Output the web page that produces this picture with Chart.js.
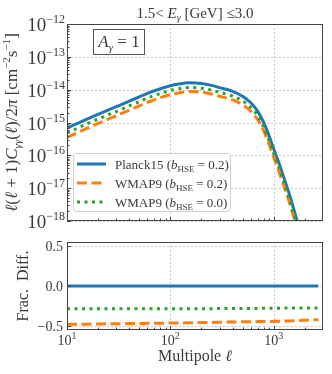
<!DOCTYPE html>
<html><head><meta charset="utf-8">
<script src="https://cdn.jsdelivr.net/npm/chart.js@4.4.0/dist/chart.umd.min.js"></script>
<style>
html,body{margin:0;padding:0;background:#fff;}
#wrap{position:relative;width:332px;height:374px;overflow:hidden;}
canvas{position:absolute;left:0;}
</style></head><body>
<div id="wrap">
<canvas id="top" width="332" height="232" style="top:0"></canvas>
<canvas id="bot" width="332" height="142" style="top:232px"></canvas>
</div>
<script>
// ---- data ----
const ell = [10,12,15,20,25,30,40,50,60,80,100,120,150,200,250,300,400,500,600,700,800,900,1000,1100,1200,1400,1600,1800,2000,2500,2700];
const planck15 = [6.76e-16,8.71e-16,1.20e-15,1.78e-15,2.40e-15,3.02e-15,4.47e-15,6.03e-15,7.76e-15,1.07e-14,1.32e-14,1.48e-14,1.62e-14,1.55e-14,1.35e-14,1.15e-14,8.91e-15,6.31e-15,3.98e-15,2.19e-15,1.00e-15,3.98e-16,1.58e-16,7.08e-17,3.16e-17,7.41e-18,1.78e-18,4.47e-19,1.12e-19,5.0e-21,1.6e-21];
const wmap9_b02 = [3.52e-16,4.55e-16,6.28e-16,9.35e-16,1.26e-15,1.59e-15,2.37e-15,3.21e-15,4.14e-15,5.72e-15,7.09e-15,7.96e-15,8.75e-15,8.42e-15,7.36e-15,6.29e-15,4.90e-15,3.48e-15,2.20e-15,1.22e-15,5.56e-16,2.22e-16,8.82e-17,3.96e-17,1.77e-17,4.18e-18,1.01e-18,2.55e-19,6.41e-20,2.89e-21,9.3e-22];
const wmap9_b00 = [4.83e-16,6.23e-16,8.58e-16,1.27e-15,1.72e-15,2.16e-15,3.20e-15,4.31e-15,5.55e-15,7.65e-15,9.45e-15,1.06e-14,1.16e-14,1.11e-14,9.68e-15,8.26e-15,6.41e-15,4.54e-15,2.87e-15,1.58e-15,7.21e-16,2.87e-16,1.14e-16,5.11e-17,2.28e-17,5.36e-18,1.29e-18,3.24e-19,8.12e-20,3.63e-21,1.16e-21];
const fracPlanck15 = [0,0,0,0,0,0,0,0,0,0,0,0,0,0,0,0,0,0,0,0,0,0,0,0,0,0,0,0,0,0,0];
const fracWmap9_b02 = [-0.480,-0.478,-0.477,-0.475,-0.473,-0.472,-0.470,-0.468,-0.467,-0.465,-0.463,-0.462,-0.460,-0.457,-0.455,-0.453,-0.450,-0.448,-0.447,-0.445,-0.444,-0.443,-0.442,-0.441,-0.439,-0.436,-0.433,-0.430,-0.428,-0.423,-0.421];
const fracWmap9_b00 = [-0.285,-0.285,-0.285,-0.285,-0.285,-0.285,-0.285,-0.285,-0.285,-0.285,-0.284,-0.284,-0.284,-0.283,-0.283,-0.282,-0.281,-0.281,-0.280,-0.280,-0.279,-0.279,-0.278,-0.278,-0.277,-0.276,-0.276,-0.275,-0.275,-0.274,-0.273];
const seriesNames = ['Planck15', 'WMAP9', 'WMAP9'];
const seriesBhse = ['0.2', '0.2', '0.0'];
const xTicks = [10, 100, 1000];
const xTickExp = ['1', '2', '3'];
const yTicksTop = [1e-12, 1e-13, 1e-14, 1e-15, 1e-16, 1e-17, 1e-18];
const yTickExpTop = ['−12', '−13', '−14', '−15', '−16', '−17', '−18'];
const yTicksBot = [0.5, 0.0, -0.5];
const yTickLabelsBot = ['0.5', '0.0', '−0.5'];

// ---- styling ----
const FONT = '"Liberation Serif", "DejaVu Serif", serif';
const TXT = '#3a3a3a';
const COLORS = ['#1f77b4', '#ff7f0e', '#2ca02c'];
const DASHES = [[], [10, 4.5], [3, 4.5]];
function font(sz, it) { return (it ? 'italic ' : '') + sz + 'px ' + FONT; }
function richWidth(ctx, parts) { let w = 0; for (const p of parts) { ctx.font = font(p[1], p[2]); w += ctx.measureText(p[0]).width; } return w; }
function drawRich(ctx, parts, x, y, align) {
  const w = richWidth(ctx, parts);
  let cx = align === 'center' ? x - w / 2 : align === 'right' ? x - w : x;
  ctx.textAlign = 'left'; ctx.textBaseline = 'alphabetic'; ctx.fillStyle = TXT;
  for (const p of parts) { ctx.font = font(p[1], p[2]); ctx.fillText(p[0], cx, y + (p[3] || 0)); cx += ctx.measureText(p[0]).width; }
}
function pts(ys) { return ell.map((l, i) => ({ x: l, y: ys[i] })); }
function minorLog(lo, hi) {
  const out = [];
  for (let d = Math.pow(10, Math.floor(Math.log10(lo))); d < hi; d *= 10)
    for (let k = 2; k <= 9; k++) { const v = k * d; if (v > lo && v < hi) out.push(v); }
  return out;
}
function drawGrid(chart, xs, ys) {
  const { ctx, chartArea: a, scales } = chart;
  ctx.save();
  ctx.strokeStyle = 'rgba(170,170,170,0.8)'; ctx.lineWidth = 0.8; ctx.setLineDash([2, 2]);
  for (const v of xs) { const px = Math.round(scales.x.getPixelForValue(v)) + 0.5; ctx.beginPath(); ctx.moveTo(px, a.top); ctx.lineTo(px, a.bottom); ctx.stroke(); }
  for (const v of ys) { const py = Math.round(scales.y.getPixelForValue(v)) + 0.5; ctx.beginPath(); ctx.moveTo(a.left, py); ctx.lineTo(a.right, py); ctx.stroke(); }
  ctx.restore();
}
function drawFrameTicks(chart, xMaj, xMin, yMaj, yMin) {
  const { ctx, chartArea: a, scales } = chart;
  ctx.save();
  ctx.strokeStyle = '#444'; ctx.lineWidth = 1;
  ctx.strokeRect(a.left + 0.5, a.top + 0.5, a.right - a.left - 1, a.bottom - a.top - 1);
  ctx.beginPath();
  for (const v of xMaj) { const px = Math.round(scales.x.getPixelForValue(v)) + 0.5; ctx.moveTo(px, a.bottom); ctx.lineTo(px, a.bottom - 4); }
  for (const v of xMin) { const px = Math.round(scales.x.getPixelForValue(v)) + 0.5; ctx.moveTo(px, a.bottom); ctx.lineTo(px, a.bottom - 2.5); }
  for (const v of yMaj) { const py = Math.round(scales.y.getPixelForValue(v)) + 0.5; ctx.moveTo(a.left, py); ctx.lineTo(a.left + 4, py); }
  for (const v of yMin) { const py = Math.round(scales.y.getPixelForValue(v)) + 0.5; ctx.moveTo(a.left, py); ctx.lineTo(a.left + 2.5, py); }
  ctx.stroke();
  ctx.restore();
}

const topDeco = {
  id: 'topDeco',
  beforeDatasetsDraw(chart) { drawGrid(chart, xTicks, yTicksTop); },
  afterDatasetsDraw(chart) {
    const { ctx, chartArea: a, scales } = chart;
    drawFrameTicks(chart, xTicks, minorLog(10, 3000), yTicksTop, minorLog(1e-18, 1e-12));
    yTicksTop.forEach((v, i) => {
      const py = scales.y.getPixelForValue(v);
      drawRich(ctx, [['10', 19, false], [yTickExpTop[i], 12, false, -8]], a.left - 2, py + 7, 'right');
    });
    drawRich(ctx, [['1.5< ', 15, false], ['E', 15, true], ['γ', 10, true, 3], [' [GeV] ≤3.0', 15, false]], (a.left + a.right) / 2, 18, 'center');
    ctx.save();
    ctx.translate(17, (a.top + a.bottom) / 2);
    ctx.rotate(-Math.PI / 2);
    drawRich(ctx, [['ℓ', 17, true], ['(', 17], ['ℓ', 17, true], [' + 1)', 17], ['C', 17, true], ['γγ', 11, true, 4], ['(', 17], ['ℓ', 17, true], [')/2', 17], ['π', 17, true], [' [cm', 17], ['−2', 11, false, -7], ['s', 17], ['−1', 11, false, -7], [']', 17]], 0, 0, 'center');
    ctx.restore();
    ctx.save();
    ctx.fillStyle = 'rgba(255,255,255,0.9)'; ctx.fillRect(93.5, 29.5, 51, 25);
    ctx.strokeStyle = '#555'; ctx.lineWidth = 1; ctx.strokeRect(93.5, 29.5, 51, 25);
    ctx.restore();
    drawRich(ctx, [['A', 17, true], ['γ', 11, true, 4], [' = 1', 17]], 119, 47, 'center');
    ctx.save();
    const lx = 73.5, ly = 153.5, lw = 157, lh = 58, r = 3;
    ctx.beginPath();
    ctx.moveTo(lx + r, ly); ctx.lineTo(lx + lw - r, ly); ctx.arcTo(lx + lw, ly, lx + lw, ly + r, r);
    ctx.lineTo(lx + lw, ly + lh - r); ctx.arcTo(lx + lw, ly + lh, lx + lw - r, ly + lh, r);
    ctx.lineTo(lx + r, ly + lh); ctx.arcTo(lx, ly + lh, lx, ly + lh - r, r);
    ctx.lineTo(lx, ly + r); ctx.arcTo(lx, ly, lx + r, ly, r); ctx.closePath();
    ctx.fillStyle = 'rgba(255,255,255,0.85)'; ctx.fill();
    ctx.strokeStyle = '#d0d0d0'; ctx.lineWidth = 1; ctx.stroke();
    const rows = [164, 183, 202];
    rows.forEach((ry, i) => {
      ctx.strokeStyle = COLORS[i]; ctx.lineWidth = 3; ctx.setLineDash(DASHES[i]); ctx.lineCap = 'butt';
      ctx.beginPath(); ctx.moveTo(77, ry); ctx.lineTo(106, ry); ctx.stroke();
      ctx.setLineDash([]);
      drawRich(ctx, [[seriesNames[i] + ' (', 13, false], ['b', 13, true], ['HSE', 9, false, 3], [' = ' + seriesBhse[i] + ')', 13, false]], 115, ry + 4.5, 'left');
    });
    ctx.restore();
  }
};

const botDeco = {
  id: 'botDeco',
  beforeDatasetsDraw(chart) { drawGrid(chart, xTicks, yTicksBot); },
  afterDatasetsDraw(chart) {
    const { ctx, chartArea: a, scales } = chart;
    drawFrameTicks(chart, xTicks, minorLog(10, 3000), yTicksBot, []);
    yTicksBot.forEach((v, i) => {
      const py = scales.y.getPixelForValue(v);
      drawRich(ctx, [[yTickLabelsBot[i], 14, false]], a.left - 4, py + 5, 'right');
    });
    xTicks.forEach((v, i) => {
      const px = scales.x.getPixelForValue(v);
      drawRich(ctx, [['10', 14, false], [xTickExp[i], 10, false, -6]], px, a.bottom + 15, 'center');
    });
    drawRich(ctx, [['Multipole ', 16, false], ['ℓ', 16, true]], (a.left + a.right) / 2, a.bottom + 31, 'center');
    ctx.save();
    ctx.translate(28, (a.top + a.bottom) / 2);
    ctx.rotate(-Math.PI / 2);
    drawRich(ctx, [['Frac.  Diff.', 16, false]], 0, 0, 'center');
    ctx.restore();
  }
};

function ds(data, i, order) {
  return { data: pts(data), borderColor: COLORS[i], borderWidth: 3, borderDash: DASHES[i], borderCapStyle: 'butt',
    pointRadius: 0, fill: false, cubicInterpolationMode: 'monotone', clip: 0, order: order };
}
const common = { responsive: false, animation: false, events: [], plugins: { legend: { display: false }, tooltip: { enabled: false } } };

new Chart(document.getElementById('top'), {
  type: 'line',
  data: { datasets: [ds(planck15, 0, 2), ds(wmap9_b02, 1, 1), ds(wmap9_b00, 2, 0)] },
  options: Object.assign({}, common, {
    layout: { padding: { left: 67, right: 9, top: 24, bottom: 11 } },
    scales: {
      x: { type: 'logarithmic', min: 10, max: 3000, display: false },
      y: { type: 'logarithmic', min: 1e-18, max: 1e-12, display: false }
    }
  }),
  plugins: [topDeco]
});

new Chart(document.getElementById('bot'), {
  type: 'line',
  data: { datasets: [ds(fracPlanck15, 0, 2), ds(fracWmap9_b02, 1, 1), ds(fracWmap9_b00, 2, 0)] },
  options: Object.assign({}, common, {
    layout: { padding: { left: 67, right: 9, top: 10, bottom: 44 } },
    scales: {
      x: { type: 'logarithmic', min: 10, max: 3000, display: false },
      y: { type: 'linear', min: -0.55, max: 0.55, display: false }
    }
  }),
  plugins: [botDeco]
});
</script>
</body></html>
